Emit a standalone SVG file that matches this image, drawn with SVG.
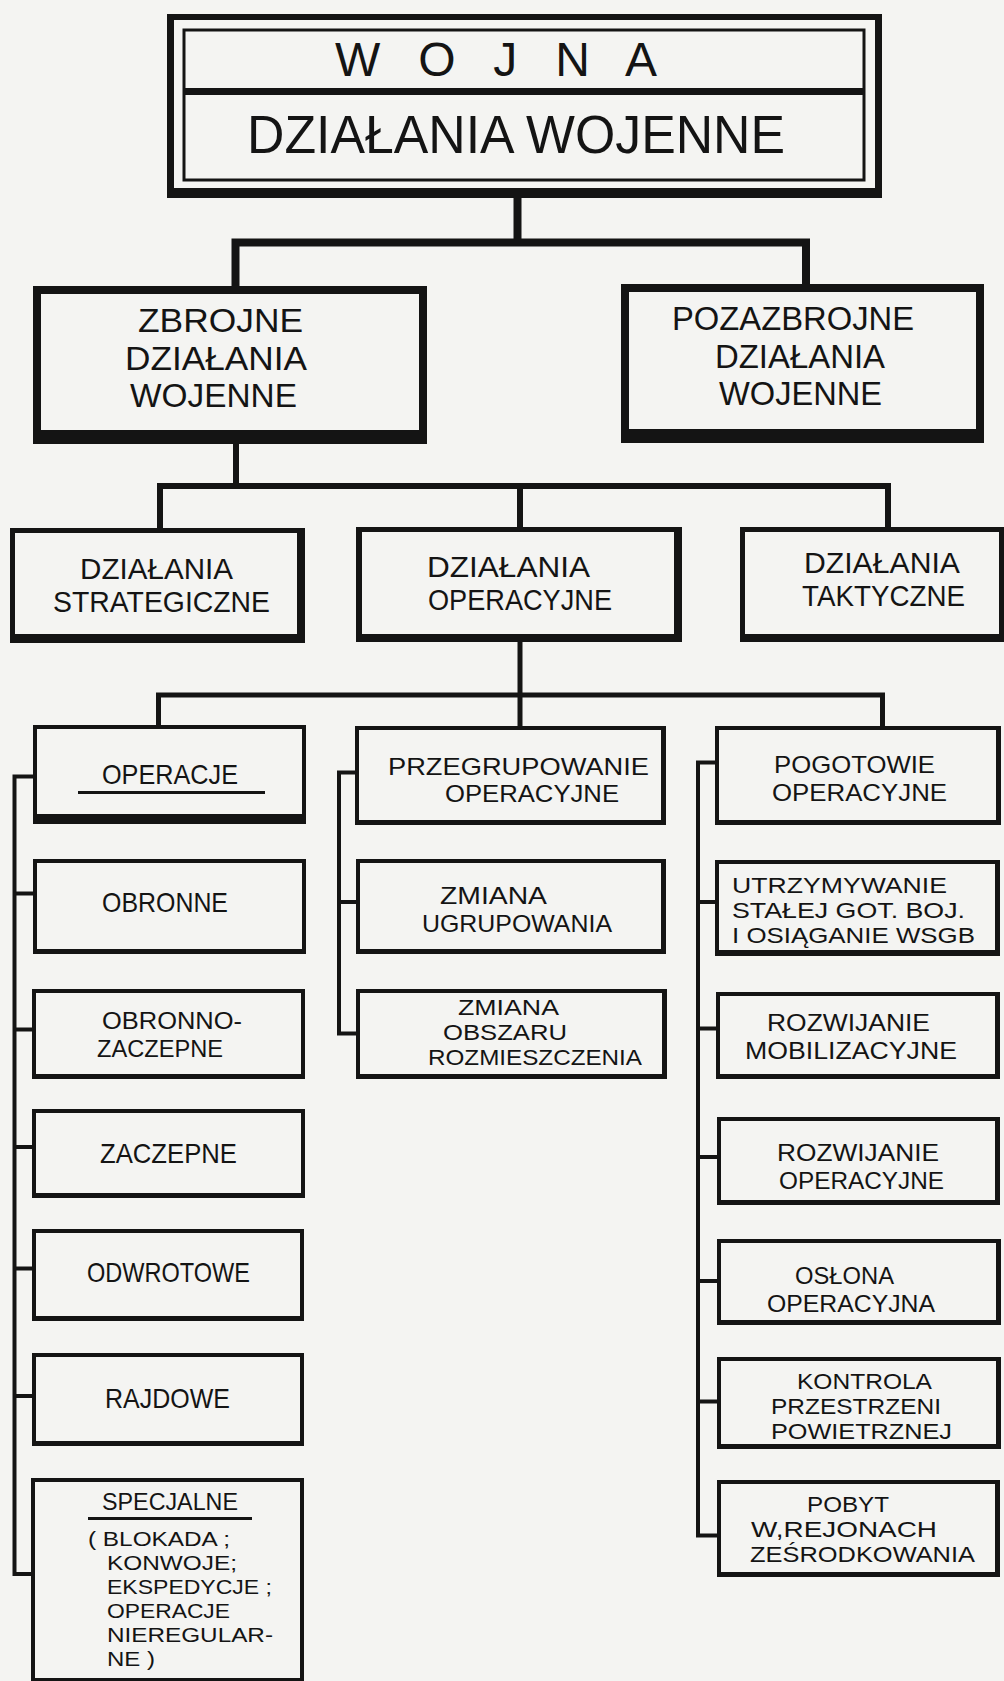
<svg xmlns="http://www.w3.org/2000/svg" width="1004" height="1681" viewBox="0 0 1004 1681">
<style>
.bg{fill:#f4f4f2}
.k{fill:#141414}
.p{fill:#f4f4f2}
.fr{fill:none;stroke:#141414;stroke-width:3}
.c{fill:none;stroke:#141414;stroke-linecap:square;stroke-linejoin:miter}
.t{font-family:"Liberation Sans",Arial,sans-serif;fill:#141414}
.f1{font-size:48px}
.f0{font-size:54px}
.f2{font-size:33px}
.f3{font-size:29px}
.f4{font-size:28px}
.f7{font-size:24px}
.f5{font-size:22px}
.f6{font-size:21px}
.ul{stroke:#141414;stroke-width:3}
</style>
<rect class="bg" x="0" y="0" width="1004" height="1681"/>

<g id="connectors">
<path class="c" stroke-width="8" d="M517.5,198 V242.5 M235.5,242.5 H806 M235.5,242.5 V287 M806,242.5 V285"/>
<path class="c" stroke-width="6" d="M236,444 V486 M160,486 H888 M160,486 V529 M520,486 V528 M888,486 V528"/>
<path class="c" stroke-width="5" d="M520,642 V726 M158.5,695 H882.5 M158.5,695 V726 M882.5,695 V727"/>
<path class="c" stroke-width="4" d="M34,776.5 H14.5 V1574 H32 M14.5,893.5 H34 M14.5,1029.5 H33 M14.5,1147 H33 M14.5,1268.5 H33 M14.5,1396 H33"/>
<path class="c" stroke-width="4" d="M356,772.5 H339 V1033.5 H357 M339,902 H357"/>
<path class="c" stroke-width="4" d="M716,762.5 H698 V1535.5 H718 M698,902 H716 M698,1028.5 H717 M698,1157 H718 M698,1281 H718 M698,1401.5 H718"/>
</g>

<g id="wojna">
<rect class="k" x="167" y="14" width="715" height="184"/>
<rect class="p" x="174" y="20" width="701" height="168"/>
<rect class="fr" x="184" y="30" width="680" height="150"/>
<rect class="k" x="183" y="88" width="682" height="7"/>
<text class="t f1" x="335" y="76" textLength="322" lengthAdjust="spacing">W O J N A</text>
<text class="t f0" x="247" y="153" textLength="538" lengthAdjust="spacingAndGlyphs">DZIAŁANIA WOJENNE</text>
</g>

<g id="zbrojne">
<rect class="k" x="33" y="286" width="394" height="158"/>
<rect class="p" x="41" y="294" width="378" height="136"/>
<text class="t f2" x="138" y="332" textLength="165" lengthAdjust="spacingAndGlyphs">ZBROJNE</text>
<text class="t f2" x="125" y="369.5" textLength="182" lengthAdjust="spacingAndGlyphs">DZIAŁANIA</text>
<text class="t f2" x="130" y="407" textLength="167" lengthAdjust="spacingAndGlyphs">WOJENNE</text>
</g>

<g id="pozazbrojne">
<rect class="k" x="621" y="284" width="363" height="159"/>
<rect class="p" x="629" y="292" width="347" height="137"/>
<text class="t f2" x="672" y="330" textLength="242" lengthAdjust="spacingAndGlyphs">POZAZBROJNE</text>
<text class="t f2" x="715" y="367.5" textLength="170" lengthAdjust="spacingAndGlyphs">DZIAŁANIA</text>
<text class="t f2" x="719" y="405" textLength="163" lengthAdjust="spacingAndGlyphs">WOJENNE</text>
</g>

<g id="strategiczne">
<rect class="k" x="10" y="528" width="295" height="115"/>
<rect class="p" x="15" y="533" width="282" height="101"/>
<text class="t f3" x="80" y="578.5" textLength="153" lengthAdjust="spacingAndGlyphs">DZIAŁANIA</text>
<text class="t f3" x="53" y="611.5" textLength="217" lengthAdjust="spacingAndGlyphs">STRATEGICZNE</text>
</g>

<g id="operacyjne">
<rect class="k" x="356" y="527" width="326" height="115"/>
<rect class="p" x="362" y="532" width="312" height="102"/>
<text class="t f3" x="427" y="577" textLength="163" lengthAdjust="spacingAndGlyphs">DZIAŁANIA</text>
<text class="t f3" x="428" y="610" textLength="184" lengthAdjust="spacingAndGlyphs">OPERACYJNE</text>
</g>

<g id="taktyczne">
<rect class="k" x="740" y="527" width="264" height="115"/>
<rect class="p" x="745" y="532" width="254" height="102"/>
<text class="t f3" x="804" y="572.5" textLength="156" lengthAdjust="spacingAndGlyphs">DZIAŁANIA</text>
<text class="t f3" x="802" y="605.5" textLength="163" lengthAdjust="spacingAndGlyphs">TAKTYCZNE</text>
</g>

<g id="operacje">
<rect class="k" x="33" y="725" width="273" height="99"/>
<rect class="p" x="37" y="729" width="265" height="85"/>
<text class="t f4" x="102" y="784" textLength="136" lengthAdjust="spacingAndGlyphs">OPERACJE</text>
<line class="ul" x1="78" y1="792.5" x2="265" y2="792.5"/>
</g>

<g id="obronne">
<rect class="k" x="33" y="859" width="273" height="95"/>
<rect class="p" x="37" y="863" width="265" height="86"/>
<text class="t f4" x="102" y="912" textLength="126" lengthAdjust="spacingAndGlyphs">OBRONNE</text>
</g>

<g id="obronno-zaczepne">
<rect class="k" x="32" y="989" width="273" height="90"/>
<rect class="p" x="36" y="993" width="265" height="81"/>
<text class="t f7" x="102" y="1029" textLength="140" lengthAdjust="spacingAndGlyphs">OBRONNO-</text>
<text class="t f7" x="97" y="1056.5" textLength="126" lengthAdjust="spacingAndGlyphs">ZACZEPNE</text>
</g>

<g id="zaczepne">
<rect class="k" x="32" y="1109" width="273" height="89"/>
<rect class="p" x="36" y="1113" width="265" height="80"/>
<text class="t f4" x="100" y="1163" textLength="137" lengthAdjust="spacingAndGlyphs">ZACZEPNE</text>
</g>

<g id="odwrotowe">
<rect class="k" x="32" y="1229" width="272" height="92"/>
<rect class="p" x="36" y="1233" width="264" height="83"/>
<text class="t f4" x="87" y="1282" textLength="163" lengthAdjust="spacingAndGlyphs">ODWROTOWE</text>
</g>

<g id="rajdowe">
<rect class="k" x="32" y="1353" width="272" height="93"/>
<rect class="p" x="36" y="1357" width="264" height="84"/>
<text class="t f4" x="105" y="1408" textLength="125" lengthAdjust="spacingAndGlyphs">RAJDOWE</text>
</g>

<g id="specjalne">
<rect class="k" x="31" y="1478" width="273" height="210"/>
<rect class="p" x="35" y="1482" width="265" height="196"/>
<text class="t f7" x="102" y="1510" textLength="136" lengthAdjust="spacingAndGlyphs">SPECJALNE</text>
<line class="ul" x1="88" y1="1518.5" x2="252" y2="1518.5"/>
<text class="t f6" x="88" y="1546" textLength="142" lengthAdjust="spacingAndGlyphs">( BLOKADA ;</text>
<text class="t f6" x="107" y="1570" textLength="130" lengthAdjust="spacingAndGlyphs">KONWOJE;</text>
<text class="t f6" x="107" y="1594" textLength="165" lengthAdjust="spacingAndGlyphs">EKSPEDYCJE ;</text>
<text class="t f6" x="107" y="1618" textLength="123" lengthAdjust="spacingAndGlyphs">OPERACJE</text>
<text class="t f6" x="107" y="1642" textLength="166" lengthAdjust="spacingAndGlyphs">NIEREGULAR-</text>
<text class="t f6" x="107" y="1666" textLength="48" lengthAdjust="spacingAndGlyphs">NE )</text>
</g>

<g id="przegrupowanie">
<rect class="k" x="355" y="726" width="311" height="99"/>
<rect class="p" x="359" y="730" width="302" height="90"/>
<text class="t f7" x="388" y="774.5" textLength="261" lengthAdjust="spacingAndGlyphs">PRZEGRUPOWANIE</text>
<text class="t f7" x="445" y="802" textLength="174" lengthAdjust="spacingAndGlyphs">OPERACYJNE</text>
</g>

<g id="zmiana-ugrupowania">
<rect class="k" x="356" y="859" width="310" height="95"/>
<rect class="p" x="360" y="863" width="301" height="86"/>
<text class="t f7" x="440" y="904" textLength="107" lengthAdjust="spacingAndGlyphs">ZMIANA</text>
<text class="t f7" x="422" y="931.5" textLength="190" lengthAdjust="spacingAndGlyphs">UGRUPOWANIA</text>
</g>

<g id="zmiana-obszaru">
<rect class="k" x="356" y="989" width="311" height="90"/>
<rect class="p" x="360" y="993" width="302" height="81"/>
<text class="t f5" x="458" y="1015" textLength="101" lengthAdjust="spacingAndGlyphs">ZMIANA</text>
<text class="t f5" x="443" y="1040" textLength="124" lengthAdjust="spacingAndGlyphs">OBSZARU</text>
<text class="t f5" x="428" y="1065" textLength="214" lengthAdjust="spacingAndGlyphs">ROZMIESZCZENIA</text>
</g>

<g id="pogotowie">
<rect class="k" x="715" y="726" width="286" height="99"/>
<rect class="p" x="719" y="730" width="277" height="90"/>
<text class="t f7" x="774" y="773" textLength="161" lengthAdjust="spacingAndGlyphs">POGOTOWIE</text>
<text class="t f7" x="772" y="800.5" textLength="175" lengthAdjust="spacingAndGlyphs">OPERACYJNE</text>
</g>

<g id="utrzymywanie">
<rect class="k" x="715" y="860" width="285" height="96"/>
<rect class="p" x="719" y="864" width="276" height="86"/>
<text class="t f5" x="732" y="893" textLength="215" lengthAdjust="spacingAndGlyphs">UTRZYMYWANIE</text>
<text class="t f5" x="732" y="918" textLength="233" lengthAdjust="spacingAndGlyphs">STAŁEJ GOT. BOJ.</text>
<text class="t f5" x="732" y="943" textLength="243" lengthAdjust="spacingAndGlyphs">I OSIĄGANIE WSGB</text>
</g>

<g id="rozwijanie-mobilizacyjne">
<rect class="k" x="716" y="992" width="284" height="87"/>
<rect class="p" x="720" y="996" width="275" height="78"/>
<text class="t f7" x="767" y="1031" textLength="163" lengthAdjust="spacingAndGlyphs">ROZWIJANIE</text>
<text class="t f7" x="745" y="1058.5" textLength="212" lengthAdjust="spacingAndGlyphs">MOBILIZACYJNE</text>
</g>

<g id="rozwijanie-operacyjne">
<rect class="k" x="717" y="1117" width="283" height="88"/>
<rect class="p" x="721" y="1121" width="274" height="79"/>
<text class="t f7" x="777" y="1161" textLength="162" lengthAdjust="spacingAndGlyphs">ROZWIJANIE</text>
<text class="t f7" x="779" y="1188.5" textLength="165" lengthAdjust="spacingAndGlyphs">OPERACYJNE</text>
</g>

<g id="oslona">
<rect class="k" x="717" y="1239" width="284" height="86"/>
<rect class="p" x="721" y="1243" width="275" height="77"/>
<text class="t f7" x="795" y="1284" textLength="99" lengthAdjust="spacingAndGlyphs">OSŁONA</text>
<text class="t f7" x="767" y="1311.5" textLength="168" lengthAdjust="spacingAndGlyphs">OPERACYJNA</text>
</g>

<g id="kontrola">
<rect class="k" x="717" y="1357" width="284" height="92"/>
<rect class="p" x="721" y="1361" width="275" height="83"/>
<text class="t f5" x="797" y="1389" textLength="135" lengthAdjust="spacingAndGlyphs">KONTROLA</text>
<text class="t f5" x="771" y="1414" textLength="170" lengthAdjust="spacingAndGlyphs">PRZESTRZENI</text>
<text class="t f5" x="771" y="1439" textLength="181" lengthAdjust="spacingAndGlyphs">POWIETRZNEJ</text>
</g>

<g id="pobyt">
<rect class="k" x="717" y="1480" width="283" height="97"/>
<rect class="p" x="721" y="1484" width="274" height="88"/>
<text class="t f5" x="807" y="1512" textLength="82" lengthAdjust="spacingAndGlyphs">POBYT</text>
<text class="t f5" x="751" y="1537" textLength="186" lengthAdjust="spacingAndGlyphs">W,REJONACH</text>
<text class="t f5" x="750" y="1562" textLength="225" lengthAdjust="spacingAndGlyphs">ZEŚRODKOWANIA</text>
</g>
</svg>
